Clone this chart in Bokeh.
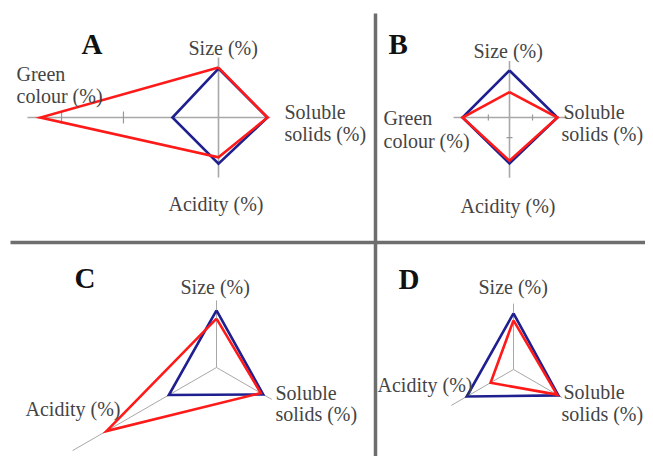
import numpy as np
from bokeh.plotting import figure
from bokeh.models import Range1d
from bokeh.core.properties import value
from bokeh.embed import file_html
from bokeh.resources import INLINE

# ---------------- data (percent) ----------------
# Panel A / B: four axes (Size, Soluble solids, Acidity, Green colour)
axes4 = ["Size (%)", "Soluble solids (%)", "Acidity (%)", "Green colour (%)"]
A_blue = [102, 102, 96, 96]
A_red = [104, 102, 83, 371]
A_axis_max = [125, 108, 125, 398]
A_ticks_green = [198, 327]

B_blue = [100, 102, 98, 100]
B_red = [54, 102, 92, 100]
B_axis_max = [120, 123, 128, 119]
B_ticks_h = [-45, 49]
B_ticks_acid = [43]

# Panel C / D: three axes (Size, Soluble solids, Acidity)
axes3 = ["Size (%)", "Soluble solids (%)", "Acidity (%)"]
C_blue = [104, 98, 100]
C_red = [89, 93, 231]
C_axis_max = [122, 116, 302]

D_blue = [104, 96, 100]
D_red = [91, 93, 49]
D_axis_max = [122, 104, 133]

panel_letters = ["A", "B", "C", "D"]

# ---------------- layout ----------------
ang4 = np.deg2rad([90, 0, 270, 180])
ang3 = np.deg2rad([90, -30, 210])

panels = {
    "A": dict(c=(218, 117), s=0.48, ang=ang4, blue=A_blue, red=A_red, amax=A_axis_max),
    "B": dict(c=(509, 117), s=0.47, ang=ang4, blue=B_blue, red=B_red, amax=B_axis_max),
    "C": dict(c=(216, 367), s=0.55, ang=ang3, blue=C_blue, red=C_red, amax=C_axis_max),
    "D": dict(c=(513, 369), s=0.54, ang=ang3, blue=D_blue, red=D_red, amax=D_axis_max),
}

W, H = 645, 456
p = figure(width=W, height=H, output_backend="svg", toolbar_location=None,
           x_range=Range1d(0, W), y_range=Range1d(H, 0),
           x_axis_type=None, y_axis_type=None, min_border=0)
p.grid.visible = False
p.outline_line_color = None
p.background_fill_color = "white"
p.border_fill_color = "white"


def pt(c, s, a, r):
    return c[0] + np.cos(a) * r * s, c[1] - np.sin(a) * r * s


AXC = "#a8a8a8"
BLUE = "#1f1f8f"
RED = "#ff1a1a"

for key, d in panels.items():
    c, s, ang = d["c"], d["s"], d["ang"]
    xs, ys = [], []
    for a, r in zip(ang, d["amax"]):
        x1, y1 = pt(c, s, a, r)
        xs.append([c[0], x1]); ys.append([c[1], y1])
    lw = 1.6 if key in "AB" else 1.0
    p.multi_line(xs, ys, line_color=AXC, line_width=lw)

# ticks
tk_x, tk_y = [], []
cA, sA = panels["A"]["c"], panels["A"]["s"]
for t in A_ticks_green:
    x, y = pt(cA, sA, np.pi, t)
    tk_x.append([x, x]); tk_y.append([y - 6, y + 6])
cB, sB = panels["B"]["c"], panels["B"]["s"]
for t in B_ticks_h:
    x, y = pt(cB, sB, 0, t)
    tk_x.append([x, x]); tk_y.append([y - 3, y + 3])
for t in B_ticks_acid:
    x, y = pt(cB, sB, -np.pi / 2, t)
    tk_x.append([x - 3, x + 3]); tk_y.append([y, y])
p.multi_line(tk_x, tk_y, line_color="#999999", line_width=1.2)

# polygons
for key, d in panels.items():
    c, s, ang = d["c"], d["s"], d["ang"]
    for vals, col in ((d["blue"], BLUE), (d["red"], RED)):
        px, py = pt(c, s, ang, np.array(vals, dtype=float))
        px = list(px) + [px[0]]
        py = list(py) + [py[0]]
        p.line(px, py, line_color=col, line_width=2.6, line_join="miter")

# separators
p.line([10, 648], [242, 242], line_color="#6e6e6e", line_width=3.5)
p.line([375, 375], [13, 470], line_color="#6e6e6e", line_width=3.5)

# labels
FONT = value("Liberation Serif")
labels = [
    ("Size (%)", 188, 47), ("Green", 16, 73), ("colour (%)", 16, 95),
    ("Soluble", 284, 111), ("solids (%)", 284, 133), ("Acidity (%)", 168, 203),
    ("Size (%)", 473, 50), ("Green", 383, 117), ("colour (%)", 383, 140),
    ("Soluble", 563, 111), ("solids (%)", 561, 133), ("Acidity (%)", 460, 205),
    ("Size (%)", 180, 286), ("Soluble", 275, 392), ("solids (%)", 275, 413),
    ("Acidity (%)", 25, 408),
    ("Size (%)", 478, 286), ("Soluble", 563, 391), ("solids (%)", 561, 413),
    ("Acidity (%)", 377, 384),
]
p.text([l[1] for l in labels], [l[2] for l in labels], text=[l[0] for l in labels],
       text_font=FONT, text_font_size="20px", text_color="#444444",
       text_align="left", text_baseline="alphabetic")

title_pos = [(81, 43), (388, 43), (74, 277), (398, 278)]
p.text([t[0] for t in title_pos], [t[1] for t in title_pos], text=panel_letters,
       text_font=FONT, text_font_size="29px", text_font_style="bold",
       text_color="#111111", text_align="left", text_baseline="alphabetic")

open("out.html", "w").write(file_html(p, INLINE))
